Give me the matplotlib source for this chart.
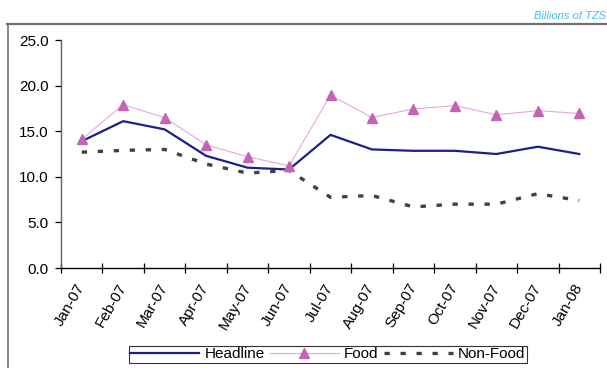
import matplotlib
matplotlib.use("Agg")
import matplotlib.pyplot as plt
from matplotlib.lines import Line2D

plt.rcParams['font.family'] = ['Liberation Sans', 'DejaVu Sans']

# monthly series, billions of TZS
months = ['Jan-07', 'Feb-07', 'Mar-07', 'Apr-07', 'May-07', 'Jun-07', 'Jul-07',
          'Aug-07', 'Sep-07', 'Oct-07', 'Nov-07', 'Dec-07', 'Jan-08']
headline = [13.9, 16.1, 15.2, 12.3, 11.0, 10.8, 14.6, 13.0, 12.85, 12.85, 12.5, 13.3, 12.5]
food = [14.1, 17.9, 16.5, 13.5, 12.2, 11.2, 18.95, 16.5, 17.45, 17.8, 16.8, 17.25, 16.95]
non_food = [12.7, 12.9, 13.0, 11.4, 10.4, 10.7, 7.75, 7.95, 6.7, 7.0, 7.0, 8.15, 7.4]
y_ticks = [0, 5, 10, 15, 20, 25]

fig = plt.figure(figsize=(6.07, 3.68), dpi=100)
ax = fig.add_axes([61/607, 1 - 268/368, 539/607, 228/368])

x = list(range(len(months)))
ax.plot(x, headline, color='#1c1f8a', lw=1.6, label='Headline', zorder=3)
ax.plot(x, food, color='#e8a6dc', lw=0.8, marker='^', markersize=7,
        markerfacecolor='#c464b4', markeredgecolor='#c464b4', label='Food', zorder=4)
ax.plot(x, non_food, color='#404040', lw=2.4, dashes=(1.6, 3.2),
        dash_capstyle='butt', label='Non-Food', zorder=2)

ax.set_xlim(-0.5, len(months) - 0.5)
ax.set_ylim(0, 25)
ax.set_yticks(y_ticks)
ax.set_yticklabels(['%.1f' % v for v in y_ticks], fontsize=11)

# category ticks sit between the months, labels on the months
ax.set_xticks([i - 0.5 for i in range(len(months) + 1)])
ax.set_xticklabels([])
ax.set_xticks(x, minor=True)
ax.set_xticklabels(months, minor=True, rotation=60, ha='right', va='center',
                   rotation_mode='anchor', fontsize=11)
ax.tick_params(axis='x', which='minor', length=0, pad=12)
ax.tick_params(axis='x', which='major', direction='inout', length=7, width=0.9)
ax.tick_params(axis='y', direction='out', length=4, width=0.9, pad=5)

for side in ['top', 'right']:
    ax.spines[side].set_visible(False)
ax.spines['left'].set_color('#606060')
ax.spines['left'].set_linewidth(1.0)
ax.spines['bottom'].set_color('black')
ax.spines['bottom'].set_linewidth(1.0)

leg = fig.legend(loc='center', bbox_to_anchor=(0.540, 0.037), ncol=3,
                 fontsize=11, frameon=True, fancybox=False, handlelength=4.5,
                 handletextpad=0.35, columnspacing=0.35, borderpad=0.1,
                 borderaxespad=0)
leg.get_frame().set_edgecolor('black')
leg.get_frame().set_linewidth(0.8)

# outer chart border (top and left edges)
fig.add_artist(Line2D([7/607, 1.0], [1 - 24/368, 1 - 24/368], color='#707070', lw=1.6,
                      transform=fig.transFigure))
fig.add_artist(Line2D([8/607, 8/607], [1 - 24/368, 0], color='#707070', lw=1.2,
                      transform=fig.transFigure))

fig.text(0.998, 1 - 16/368, 'Billions of TZS', ha='right', va='center',
         fontsize=8, style='italic', color='#3fbfef')

fig.savefig('out.png', dpi=100)
